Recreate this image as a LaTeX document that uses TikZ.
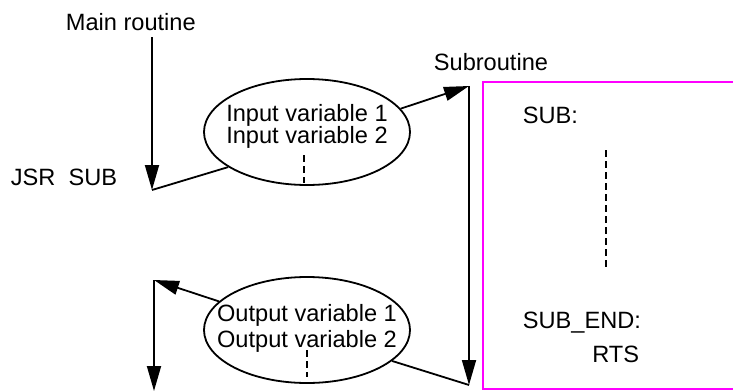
\documentclass[tikz,border=0pt]{standalone}
\usepackage{fontspec}
\setmainfont{Liberation Sans}
\usetikzlibrary{shapes.geometric,arrows.meta}
\definecolor{boxpink}{RGB}{255,0,255}

\begin{document}
\begin{tikzpicture}[x=0.5pt,y=-0.5pt,line width=0.9pt,
                    >={Triangle[length=12.5pt,width=7pt]},
                    text node/.style={inner sep=0pt,font=\fontsize{11.8}{14}\selectfont},
                    var node/.style={ellipse,draw,minimum width=103pt,minimum height=53pt,inner sep=0pt},
                    dots line/.style={line width=0.65pt,dash pattern=on 3.5pt off 2pt}]

  \useasboundingbox (0,0) rectangle (733,391);
  \clip (0,0) rectangle (733,391);

  % main routine side
  \node[text node,anchor=base west] (main) at (65,31) {Main routine};
  \node[text node,anchor=base west] (jsr) at (10,185) {JSR\ \ SUB};
  \coordinate (mtop) at (152,37);
  \coordinate (call) at (152,190);
  \coordinate (rtop) at (154,280);
  \coordinate (rbot) at (154,391);

  % variables passed
  \node[var node] (in) at (307,132) {};
  \node[text node,anchor=base] (in1) at (307,121) {Input variable 1};
  \node[text node,anchor=base] (in2) at (307,143) {Input variable 2};
  \node[var node] (out) at (307,330) {};
  \node[text node,anchor=base] (out1) at (307,321) {Output variable 1};
  \node[text node,anchor=base] (out2) at (307,347) {Output variable 2};

  % subroutine
  \node[text node,anchor=base west] (sub) at (433,70) {Subroutine};
  \coordinate (stop) at (469,86);
  \coordinate (sbot) at (469,385);
  \node[draw=boxpink,minimum width=145pt,minimum height=153.5pt,anchor=north west,inner sep=0pt] (box) at (482,81) {};
  \node[text node,anchor=base west] (entry) at (522,123) {SUB:};
  \node[text node,anchor=base west] (exit) at (522,328) {SUB\_END:};
  \node[text node,anchor=base east] (rts) at (640,362) {RTS};

  \draw[->] (mtop) -- (call);
  \draw (call) -- (in.204);
  \draw[->] (in.14) -- (stop);
  \draw[->] (stop) -- (sbot);
  \draw (sbot) -- (out.340);
  \draw[->] (out.162) -- (rtop);
  \draw[->] (rtop) -- (rbot);

  \draw[dots line] (304,155) -- (304,183);
  \draw[dots line] (307,350) -- (307,377);
  \draw[dots line] (606,150) -- (606,268);
\end{tikzpicture}
\end{document}
